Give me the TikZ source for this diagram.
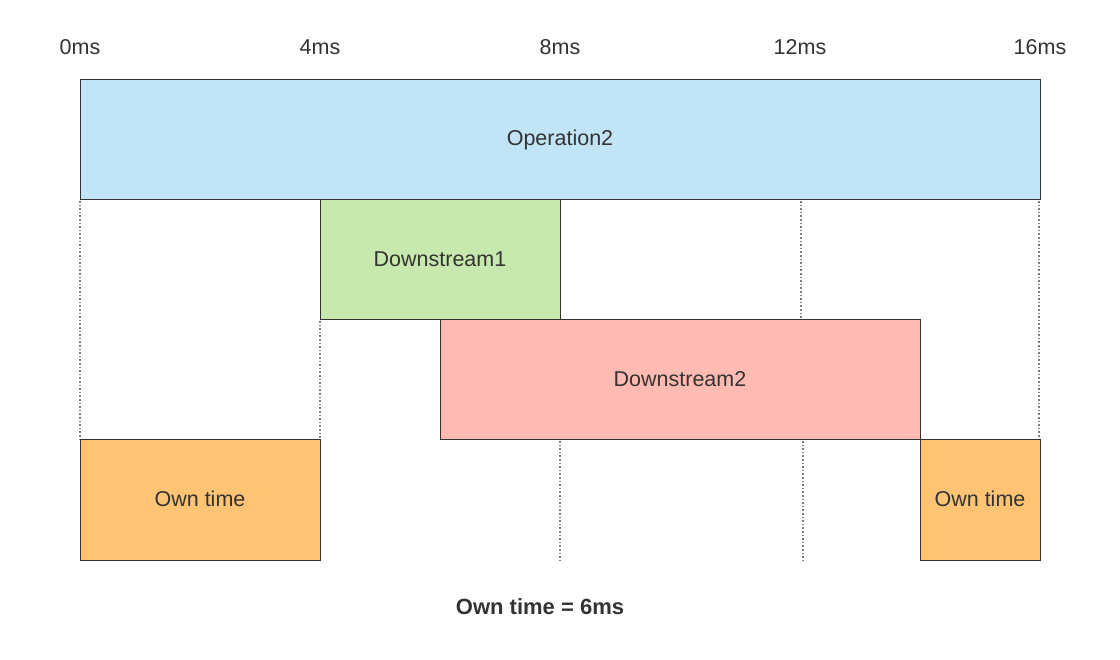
\documentclass[tikz,border=0pt]{standalone}
\usepackage{fontspec}
\setmainfont{Liberation Sans}
\definecolor{cblue}{HTML}{C1E4F7}
\definecolor{cgreen}{HTML}{C7E9AD}
\definecolor{cpink}{HTML}{FFBBB1}
\definecolor{corange}{HTML}{FFC374}
\definecolor{cline}{HTML}{333333}
\definecolor{ctext}{HTML}{333333}
\definecolor{cdot}{HTML}{7F7F7F}
\begin{document}
\begin{tikzpicture}[x=1pt,y=-1pt,
  span/.style={draw=cline,line width=1pt,inner sep=0pt,outer sep=0pt,
    font=\fontsize{21.5}{25}\selectfont,text=ctext},
  tick/.style={font=\fontsize{21.5}{25}\selectfont,text=ctext,inner sep=0pt},
  guide/.style={draw=cdot,line width=1.6pt,dash pattern=on 1.6pt off 2pt}]
\useasboundingbox (0,0) rectangle (1120,660);
\path[fill=white] (0,0) rectangle (1120,660);
% time labels
\node[tick] (t0) at (80,47) {0ms};
\node[tick] (t4) at (320,47) {4ms};
\node[tick] (t8) at (560,47) {8ms};
\node[tick] (t12) at (800,47) {12ms};
\node[tick] (t16) at (1040,47) {16ms};
% guides
\coordinate (g0a) at (80,201); \coordinate (g0b) at (80,439);
\coordinate (g4a) at (320,321); \coordinate (g4b) at (320,439);
\coordinate (g8a) at (560,441); \coordinate (g8b) at (560,560);
\coordinate (g12a) at (801,201); \coordinate (g12b) at (801,319);
\coordinate (g12c) at (803,441); \coordinate (g12d) at (803,560);
\coordinate (g16a) at (1039,201); \coordinate (g16b) at (1039,439);
\draw[guide] (g0a) -- (g0b);
\draw[guide] (g4a) -- (g4b);
\draw[guide] (g8a) -- (g8b);
\draw[guide] (g12a) -- (g12b);
\draw[guide] (g12c) -- (g12d);
\draw[guide] (g16a) -- (g16b);
% spans
\node[span,fill=cblue,minimum width=960pt,minimum height=120pt] (op) at (560,140) {\raisebox{2pt}{Operation2}};
\node[span,fill=cgreen,minimum width=240pt,minimum height=120pt] (d1) at (440,260) {\raisebox{2pt}{Downstream1}};
\node[span,fill=cpink,minimum width=480pt,minimum height=120pt] (d2) at (680,380) {\raisebox{2pt}{Downstream2}};
\node[span,fill=corange,minimum width=240pt,minimum height=120pt] (o1) at (200,500) {\raisebox{2pt}{Own time}};
\node[span,fill=corange,minimum width=120pt,minimum height=120pt] (o2) at (980,500) {\raisebox{2pt}{Own time}};
% summary
\node[tick,font=\fontsize{22}{26}\selectfont\bfseries] (sum) at (540,607) {Own time = 6ms};
\end{tikzpicture}
\end{document}
